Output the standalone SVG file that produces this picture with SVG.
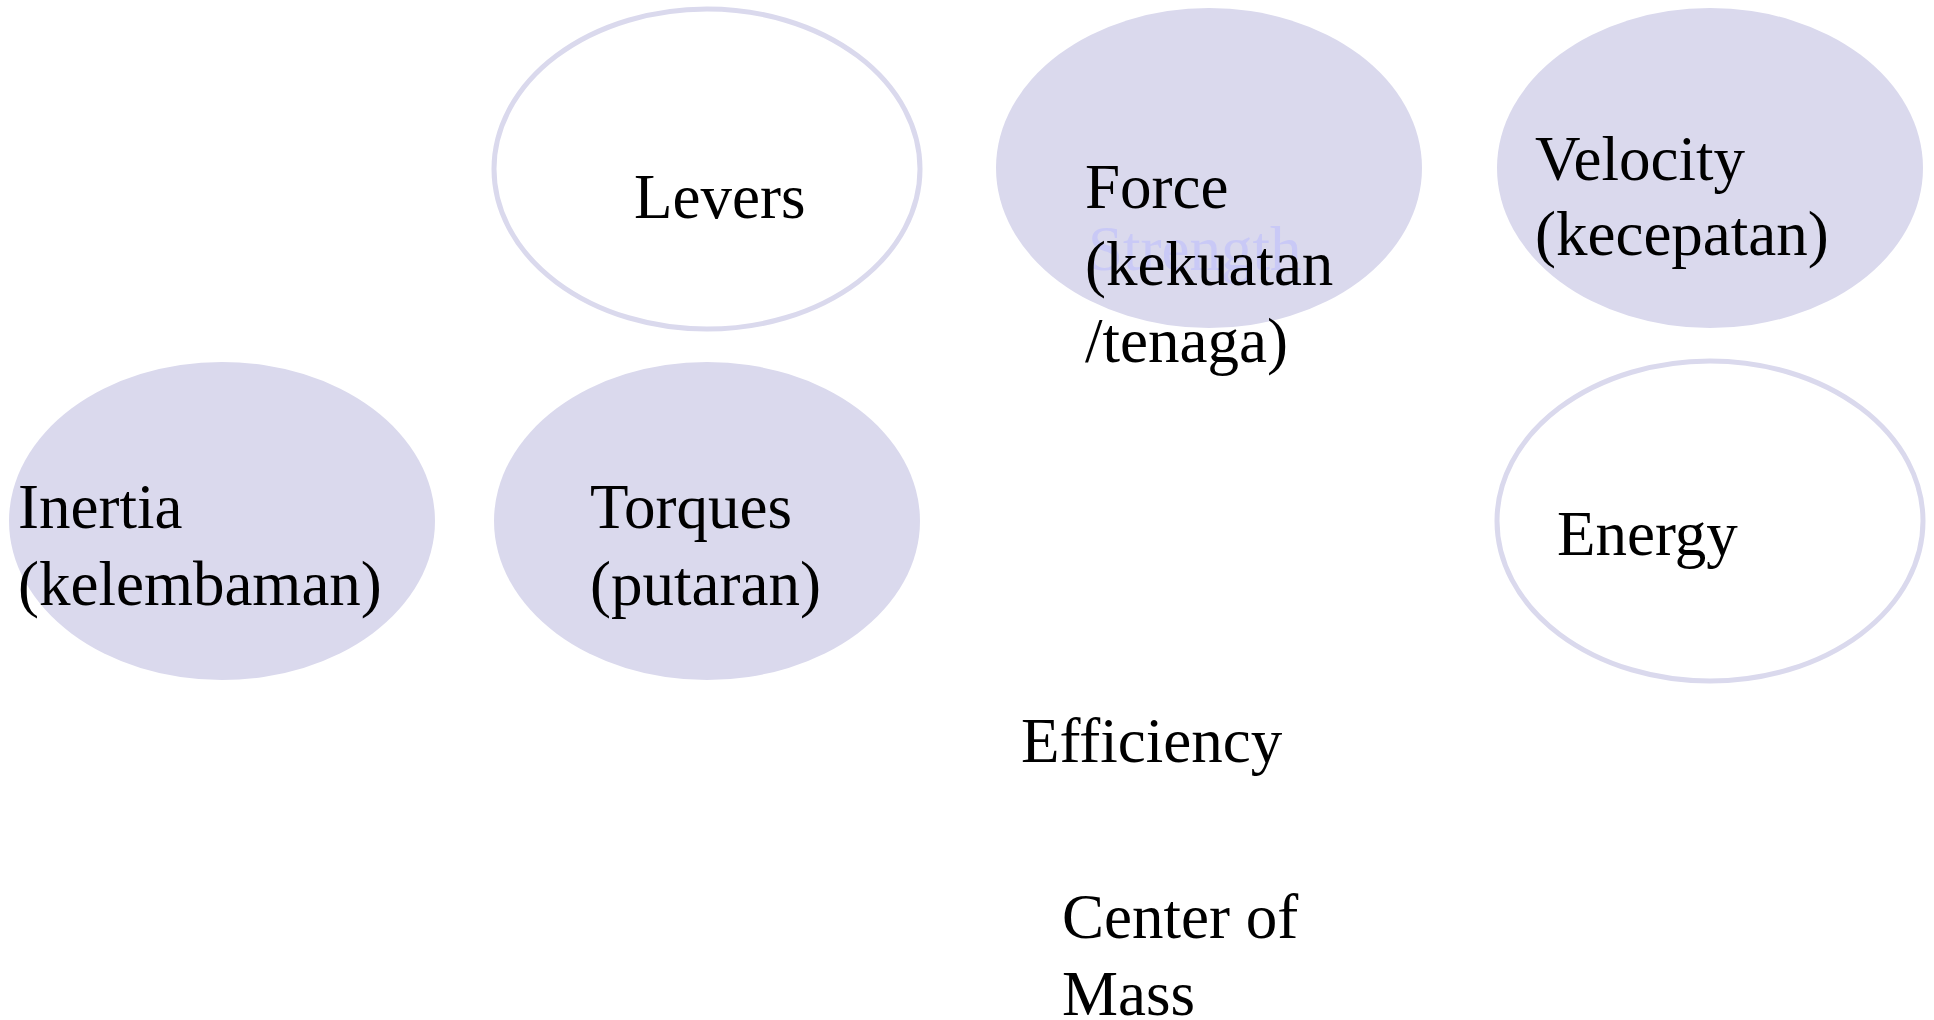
<svg xmlns="http://www.w3.org/2000/svg" width="1934" height="1020" viewBox="0 0 1934 1020">
<style>
.filled{fill:#dad9ed;stroke:none}
.outline{fill:#ffffff;stroke:#dad9ed;stroke-width:5}
text{font-family:"Liberation Serif","Times New Roman",serif;font-size:63px;fill:#000000}
.faint{fill:#c9c9f6}
</style>
<rect width="1934" height="1020" fill="#ffffff"/>
<g id="connectors"></g>
<g id="levers">
<ellipse class="outline" cx="707" cy="169" rx="213" ry="160"/>
<text x="634" y="218">Levers</text>
</g>
<g id="force">
<ellipse class="filled" cx="1209" cy="168" rx="213" ry="160"/>
<text class="faint" x="1088" y="270">Strength</text>
<text x="1085" y="208">Force</text>
<text x="1085" y="285">(kekuatan</text>
<text x="1085" y="362">/tenaga)</text>
</g>
<g id="velocity">
<ellipse class="filled" cx="1710" cy="168" rx="213" ry="160"/>
<text x="1535" y="180">Velocity</text>
<text x="1535" y="255">(kecepatan)</text>
</g>
<g id="inertia">
<ellipse class="filled" cx="222" cy="521" rx="213" ry="159"/>
<text x="18" y="528">Inertia</text>
<text x="18" y="605">(kelembaman)</text>
</g>
<g id="torques">
<ellipse class="filled" cx="707" cy="521" rx="213" ry="159"/>
<text x="590" y="528">Torques</text>
<text x="590" y="605">(putaran)</text>
</g>
<g id="energy">
<ellipse class="outline" cx="1710" cy="521" rx="213" ry="160"/>
<text x="1557" y="555">Energy</text>
</g>
<g id="efficiency">
<text x="1021" y="762">Efficiency</text>
</g>
<g id="center-of-mass">
<text x="1062" y="938">Center of</text>
<text x="1062" y="1015">Mass</text>
</g>
</svg>
